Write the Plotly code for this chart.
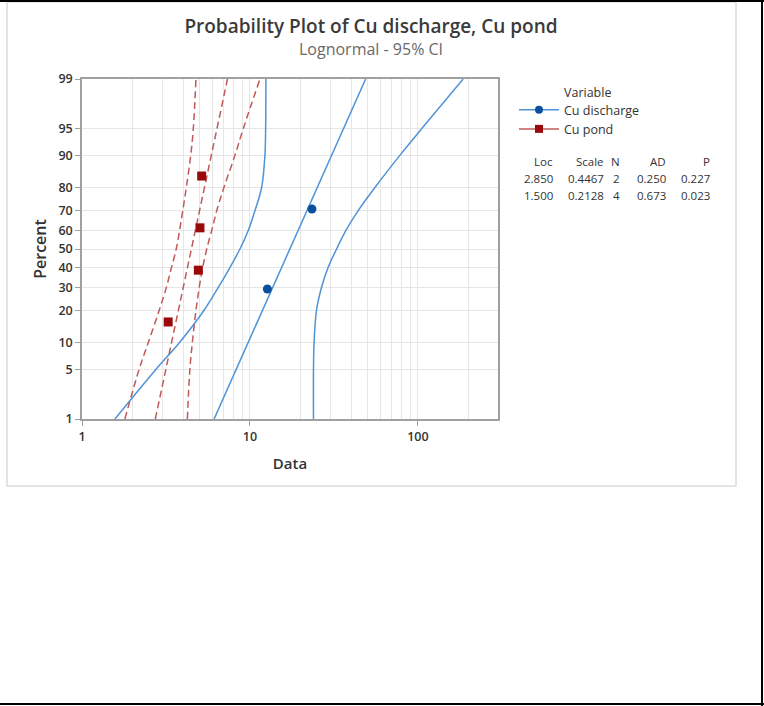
import math
from statistics import NormalDist
import plotly.graph_objects as go

# ---------------- data ----------------
variables = ["Cu discharge", "Cu pond"]
loc = [2.850, 1.500]
scale = [0.4467, 0.2128]
n_obs = [2, 4]
ad = [0.250, 0.673]
p_val = [0.227, 0.023]

discharge_x = [12.7, 23.4]
discharge_pct = [29.2, 70.8]
pond_x = [3.26, 4.93, 5.04, 5.16]
pond_pct = [15.9, 38.6, 61.4, 84.1]

# percent levels at which the 95% CI bounds were read
ci_pct = [1, 5, 10, 20, 30, 40, 50, 60, 70, 80, 90, 95, 99]
discharge_lower = [1.57, 2.76, 3.80, 5.32, 6.48, 7.60, 8.72, 9.77, 10.71, 11.74, 12.28, 12.40, 12.45]
discharge_upper = [23.9, 23.9, 24.1, 24.9, 26.7, 29.2, 32.8, 37.3, 44.1, 55.5, 78.1, 105.2, 186.1]
pond_lower = [1.80, 2.19, 2.48, 2.88, 3.18, 3.41, 3.64, 3.81, 3.98, 4.18, 4.44, 4.60, 4.77]
pond_upper = [4.24, 4.39, 4.54, 4.77, 4.99, 5.23, 5.53, 5.92, 6.34, 7.0, 8.14, 9.12, 11.47]

fit_pct = [1, 99]

y_ticks = [1, 5, 10, 20, 30, 40, 50, 60, 70, 80, 90, 95, 99]
x_ticks = [1, 10, 100]
x_minor = [2, 3, 4, 5, 6, 7, 8, 9, 20, 30, 40, 50, 60, 70, 80, 90, 200, 300]

# ---------------- helpers ----------------
nd = NormalDist()


def zq(p):
    return nd.inv_cdf(p / 100.0)


W, H = 764, 706
L, R, T, B = 82, 266, 79, 287
PW, PH = W - L - R, H - T - B


def px(x):
    return (x - L) / PW


def py(y):
    return (H - B - y) / PH


BLUE_LINE = "#5093d6"
BLUE_MK = "#0b4f9f"
RED_LINE = "#c05a5a"
RED_MK = "#9a0a0a"
GRID = "#e6e6e6"
TXT = "#333333"
FONT = "Open Sans"
DASH = "7px,4px"

fig = go.Figure()

# CI bands (solid blue, dashed red)
for xs, color, dash in [
    (discharge_lower, BLUE_LINE, "solid"),
    (discharge_upper, BLUE_LINE, "solid"),
    (pond_lower, RED_LINE, DASH),
    (pond_upper, RED_LINE, DASH),
]:
    fig.add_trace(go.Scatter(
        x=xs, y=[zq(p) for p in ci_pct], mode="lines",
        line=dict(color=color, width=1.5, dash=dash, shape="spline", smoothing=1.0),
        showlegend=False, hoverinfo="skip"))

# fitted lines from Loc / Scale
for i, (color, dash) in enumerate([(BLUE_LINE, "solid"), (RED_LINE, DASH)]):
    zz = [zq(p) for p in fit_pct]
    fig.add_trace(go.Scatter(
        x=[math.exp(loc[i] + scale[i] * z) for z in zz], y=zz, mode="lines",
        line=dict(color=color, width=1.5, dash=dash),
        showlegend=False, hoverinfo="skip"))

# data points
fig.add_trace(go.Scatter(
    x=discharge_x, y=[zq(p) for p in discharge_pct], mode="markers",
    marker=dict(symbol="circle", size=9, color=BLUE_MK),
    showlegend=False, name=variables[0]))
fig.add_trace(go.Scatter(
    x=pond_x, y=[zq(p) for p in pond_pct], mode="markers",
    marker=dict(symbol="square", size=9, color=RED_MK),
    showlegend=False, name=variables[1]))

# legend entries
fig.add_trace(go.Scatter(
    x=[None], y=[None], mode="lines+markers", name=variables[0],
    line=dict(color=BLUE_LINE, width=1.5),
    marker=dict(symbol="circle", size=8, color=BLUE_MK)))
fig.add_trace(go.Scatter(
    x=[None], y=[None], mode="lines+markers", name=variables[1],
    line=dict(color=RED_LINE, width=1.5),
    marker=dict(symbol="square", size=8, color=RED_MK)))

annotations = []
# subtitle
annotations.append(dict(
    text="Lognormal - 95% CI", x=px(371), y=py(49), xref="paper", yref="paper",
    xanchor="center", yanchor="middle", showarrow=False,
    font=dict(family=FONT, size=16, color="#6a6a6a")))
# legend title
annotations.append(dict(
    text="Variable", x=px(562), y=py(93), xref="paper", yref="paper",
    xanchor="left", yanchor="middle", showarrow=False,
    font=dict(family=FONT, size=12.5, color=TXT)))

# statistics table
col_right = [555, 606, 622, 668, 712]
headers = ["Loc", "Scale", "N", "AD", "P"]
rows = [
    [f"{loc[i]:.3f}", f"{scale[i]:.4f}", f"{n_obs[i]}", f"{ad[i]:.3f}", f"{p_val[i]:.3f}"]
    for i in range(len(variables))
]
row_y = [161, 178, 195]
for r, cells in enumerate([headers] + rows):
    for c, txt in enumerate(cells):
        annotations.append(dict(
            text=txt, x=px(col_right[c]), y=py(row_y[r]), xref="paper", yref="paper",
            xanchor="right", yanchor="middle", showarrow=False,
            font=dict(family=FONT, size=11.5, color=TXT)))

shapes = [
    # outer panel (light grey)
    dict(type="rect", xref="paper", yref="paper", x0=px(7), x1=px(736), y0=py(2), y1=py(486),
         line=dict(color="#dcdcdc", width=1.5), fillcolor="rgba(0,0,0,0)", layer="below"),
    # black page frame: top, right, bottom
    dict(type="line", xref="paper", yref="paper", x0=px(0), x1=px(764), y0=py(1), y1=py(1),
         line=dict(color="black", width=2)),
    dict(type="line", xref="paper", yref="paper", x0=px(762), x1=px(762), y0=py(0), y1=py(706),
         line=dict(color="black", width=2)),
    dict(type="line", xref="paper", yref="paper", x0=px(0), x1=px(764), y0=py(704), y1=py(704),
         line=dict(color="black", width=2)),
]

fig.update_layout(
    width=W, height=H,
    margin=dict(l=L, r=R, t=T, b=B, autoexpand=False),
    paper_bgcolor="white", plot_bgcolor="white",
    font=dict(family=FONT, color=TXT),
    title=dict(text="Probability Plot of Cu discharge, Cu pond",
               x=371 / W, xref="container", xanchor="center",
               y=1 - 26 / H, yref="container", yanchor="middle",
               font=dict(family=FONT, size=19, color="#3a3a3a", weight=600)),
    xaxis=dict(
        type="log", range=[0, math.log10(300)], automargin=False,
        tickvals=x_ticks, ticktext=[str(v) for v in x_ticks],
        ticks="outside", ticklen=5, tickcolor="#a0a0a0", tickwidth=1,
        tickfont=dict(family=FONT, size=12.5, color=TXT, weight=600),
        showgrid=True, gridcolor=GRID, gridwidth=1,
        minor=dict(tickvals=x_minor, showgrid=True, gridcolor=GRID, gridwidth=1, ticks=""),
        showline=True, linecolor="#a0a0a0", linewidth=1.5, mirror=True,
        zeroline=False,
        title=dict(text="Data", standoff=15,
                   font=dict(family=FONT, size=15, color=TXT, weight=600)),
    ),
    yaxis=dict(
        range=[zq(1), zq(99)], automargin=False,
        tickvals=[zq(p) for p in y_ticks], ticktext=[str(p) for p in y_ticks],
        ticks="outside", ticklen=5, tickcolor="#a0a0a0", tickwidth=1,
        tickfont=dict(family=FONT, size=12.5, color=TXT, weight=600),
        showgrid=True, gridcolor=GRID, gridwidth=1,
        showline=True, linecolor="#a0a0a0", linewidth=1.5, mirror=True,
        zeroline=False,
        title=dict(text="Percent", standoff=8,
                   font=dict(family=FONT, size=16, color=TXT, weight=600)),
    ),
    legend=dict(
        x=px(514), y=py(95), xanchor="left", yanchor="top",
        font=dict(family=FONT, size=12.5, color=TXT),
        bgcolor="rgba(0,0,0,0)", tracegroupgap=0, itemwidth=40,
    ),
    annotations=annotations,
    shapes=shapes,
)

fig.write_html("out.html")
